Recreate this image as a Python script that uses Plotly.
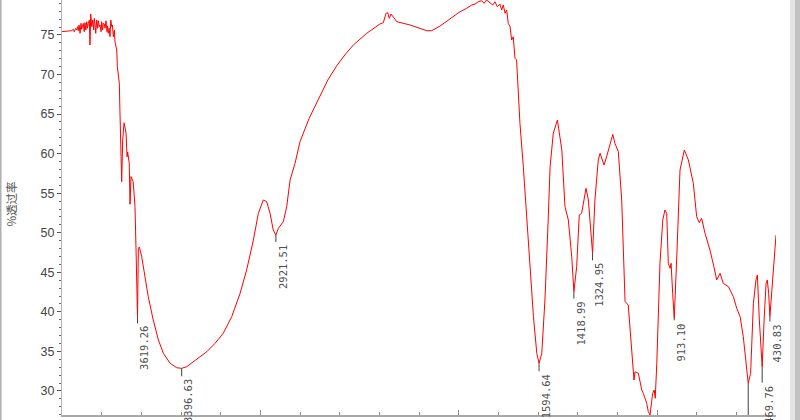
import plotly.graph_objects as go

# ---- spectrum data (wavenumber cm-1, % transmittance) ----
wavenumber = [
    4000, 3951, 3943, 3938, 3931, 3926, 3921, 3918, 3914, 3909, 3904, 3901, 3893, 3888,
    3884, 3880, 3875, 3872, 3867, 3862, 3859, 3855, 3850, 3845, 3840, 3837, 3834, 3830,
    3825, 3820, 3817, 3812, 3808, 3803, 3800, 3795, 3792, 3787, 3783, 3778, 3773, 3770,
    3767, 3762, 3758, 3754, 3749, 3746, 3741, 3736, 3733, 3724, 3721, 3711, 3708, 3704,
    3699, 3694, 3687, 3677, 3672, 3669, 3661, 3657, 3652, 3641, 3632, 3627, 3623, 3619.26,
    3615, 3610, 3598, 3582, 3565, 3540, 3514, 3489, 3455, 3422, 3396.63, 3371, 3329, 3270,
    3229, 3187, 3144, 3102, 3069, 3035, 3010, 2985, 2968, 2951, 2935, 2921.51, 2909, 2884,
    2867, 2850, 2825, 2800, 2755, 2708, 2660, 2615, 2570, 2531, 2464, 2397, 2380, 2366, 2358, 2350, 2341,
    2312, 2245, 2161, 2136, 2094, 2010, 1993, 1960, 1934, 1918, 1901, 1884, 1872, 1859,
    1842, 1828, 1817, 1805, 1792, 1783, 1775, 1766, 1758, 1750, 1741, 1733, 1725, 1716,
    1708, 1699, 1691, 1674, 1657, 1640, 1623, 1606, 1594.64, 1581, 1565, 1548, 1539, 1523,
    1509, 1502, 1496, 1480, 1464, 1447, 1430, 1418.99, 1405, 1392, 1380, 1358, 1346, 1334,
    1324.95, 1313, 1296, 1287, 1267, 1254, 1237, 1223, 1212, 1195, 1178, 1161, 1145, 1128,
    1116, 1111, 1094, 1077, 1069, 1052, 1044, 1035, 1022, 1014, 1009, 1001, 993, 988,
    985, 971, 960, 951, 943, 934, 929, 921, 913.10, 901, 884, 862, 842, 817,
    800, 787, 775, 758, 733, 713, 699, 682, 666, 640, 615, 598, 581, 565,
    551, 540, 528, 514, 501, 494, 484, 474, 469.76, 460, 450, 444, 437, 430.83,
    422, 414, 400,
]
transmittance = [
    75.42, 75.54, 75.71, 75.41, 75.84, 75.63, 76.05, 75.54, 76.26, 75.21, 76.47, 75.72, 76.47, 75.41,
    76.55, 75.63, 76.68, 75.84, 76.47, 76.89, 73.73, 77.65, 76.05, 76.89, 75.63, 77.10, 76.47, 75.21,
    76.89, 75.84, 76.80, 76.05, 76.26, 75.41, 76.68, 75.63, 76.47, 76.39, 75.84, 76.80, 75.41, 76.13,
    75.21, 75.84, 74.78, 76.89, 76.05, 76.26, 74.78, 75.63, 74.15, 73.10, 71.0, 68.9, 65.5, 58.8,
    56.45, 61.7, 63.9, 62.6, 59.6, 60.2, 58.8, 53.6, 57.1, 56.45, 53.3, 48.2, 40.2, 39.3,
    48.0, 48.2, 46.97, 44.4, 41.9, 38.97, 36.45, 34.76, 33.5, 32.94, 32.86, 33.07, 33.9, 34.96,
    36.0, 37.29, 39.4, 42.34, 45.3, 49.08, 52.46, 54.14, 53.93, 52.46, 50.35, 49.7, 50.56, 51.4,
    53.3, 56.67, 58.78, 61.51, 64.4, 66.78, 69.3, 71.1, 72.6, 73.73, 75.2, 76.39, 76.55, 77.74, 77.82, 77.1, 77.65,
    76.68, 76.26, 75.54, 75.54, 76.13, 77.65, 77.94, 78.37, 78.79, 78.9, 79.2, 79.33, 79.0, 79.42,
    79.08, 78.79, 79.2, 78.57, 78.9, 78.16, 78.79, 77.74, 78.16, 76.47, 76.05, 74.36, 74.78, 72.05,
    71.84, 66.78, 63.83, 58.35, 52.03, 45.7, 39.4, 34.76, 33.5, 34.76, 41.5, 52.0, 58.35, 62.57,
    63.83, 64.25, 63.2, 60.46, 53.3, 51.6, 46.97, 42.55, 45.7, 52.24, 52.46, 55.62, 54.14, 49.93,
    47.4, 54.14, 59.2, 60.04, 58.56, 59.61, 61.3, 62.44, 61.3, 60.24, 54.14, 41.3, 40.87, 34.96,
    31.38, 32.43, 32.23, 30.12, 29.7, 28.44, 27.4, 26.96, 29.7, 30.12, 29.07, 33.5, 39.82, 44.03,
    46.14, 51.6, 52.87, 52.46, 46.14, 45.5, 46.14, 42.34, 39.18, 46.55, 57.93, 60.46, 59.2, 56.25,
    52.03, 51.27, 51.82, 49.93, 47.82, 45.7, 44.03, 44.87, 43.6, 43.18, 41.92, 40.45, 39.4, 36.86,
    33.9, 30.97, 32.23, 41.08, 44.03, 44.66, 38.97, 34.76, 33.07, 38.97, 43.6, 44.03, 42.34, 39.4,
    42.34, 44.87, 49.7,
]

# ---- peak labels ----
peak_wn = [3619.26, 3396.63, 2921.51, 1594.64, 1418.99, 1324.95, 913.10, 469.76, 430.83]
peak_t = [39.3, 32.86, 49.7, 33.5, 42.55, 47.4, 39.18, 33.07, 39.4]
peak_text = ["3619.26", "3396.63", "2921.51", "1594.64", "1418.99", "1324.95", "913.10", "469.76", "430.83"]
peak_line_px = [6, 8, 7, 8, 7, 7, 2, 16, 5]

# unlabeled (label below the visible area) peak
hidden_peak_wn = 540
hidden_peak_t = 30.97

x_range = [4000, 400]
y_range = [26.96, 79.42]

fig = go.Figure()
fig.add_trace(go.Scatter(
    x=wavenumber, y=transmittance, mode="lines",
    line=dict(color="#ff0000", width=1), showlegend=False, hoverinfo="skip",
))

shapes = []
annotations = []
for wn, t, txt, ln in zip(peak_wn, peak_t, peak_text, peak_line_px):
    shapes.append(dict(type="line", xref="x", yref="y", x0=wn, x1=wn,
                       ysizemode="pixel", yanchor=t, y0=0, y1=-ln,
                       line=dict(color="#404040", width=1)))
    annotations.append(dict(x=wn, y=t, xref="x", yref="y", text=txt, showarrow=False,
                            textangle=-90, xanchor="left", yanchor="top",
                            xshift=-1, yshift=-(ln + 1),
                            font=dict(family="DejaVu Sans Mono", size=10.5, color="#505050")))

shapes.append(dict(type="line", xref="x", yref="y", x0=hidden_peak_wn, x1=hidden_peak_wn,
                   y0=hidden_peak_t, y1=y_range[0], line=dict(color="#404040", width=1)))

# window border decorations
shapes.append(dict(type="line", xref="paper", yref="paper", x0=-0.0861, x1=-0.0861,
                   y0=-0.013, y1=1.0, line=dict(color="#b0b0b0", width=2)))
shapes.append(dict(type="rect", xref="paper", yref="paper", x0=1.0196, x1=1.0266,
                   y0=-0.013, y1=1.0, line=dict(width=0), fillcolor="#e4e4e4"))
shapes.append(dict(type="rect", xref="paper", yref="paper", x0=1.0266, x1=1.04,
                   y0=-0.013, y1=1.0, line=dict(width=0), fillcolor="#c2c2c2"))

annotations.append(dict(x=-0.0714, y=0.507, xref="paper", yref="paper", text="%透过率",
                        showarrow=False, textangle=-90, xanchor="center", yanchor="middle",
                        font=dict(family="Noto Sans CJK SC", size=11.5, color="#555555")))

fig.update_layout(
    template="none",
    width=800, height=420,
    margin=dict(l=62, r=24, t=0, b=5, pad=0),
    paper_bgcolor="white", plot_bgcolor="white",
    showlegend=False,
    shapes=shapes,
    annotations=annotations,
    xaxis=dict(
        range=x_range, showgrid=False, zeroline=False, showline=True,
        linecolor="#a8a8a8", linewidth=1.5, mirror=False,
        tick0=0, dtick=1000, ticks="inside", ticklen=5, tickcolor="#8a8a8a", tickwidth=1,
        minor=dict(dtick=200, ticks="inside", ticklen=3, tickcolor="#8a8a8a"),
        showticklabels=False, automargin=False,
    ),
    yaxis=dict(
        range=y_range, showgrid=False, zeroline=False, showline=True,
        linecolor="#b8b8b8", linewidth=1,
        tick0=0, dtick=5, ticks="outside", ticklen=4, tickcolor="#555555", tickwidth=1,
        minor=dict(dtick=1, ticks="outside", ticklen=2, tickcolor="#666666"),
        tickfont=dict(family="Liberation Sans", size=12.5, color="#444444"),
        automargin=False,
    ),
)

fig.write_html(
    "out.html",
    config={"displayModeBar": False},
    post_script="document.body.style.margin='0px';document.body.style.overflow='hidden';",
)
